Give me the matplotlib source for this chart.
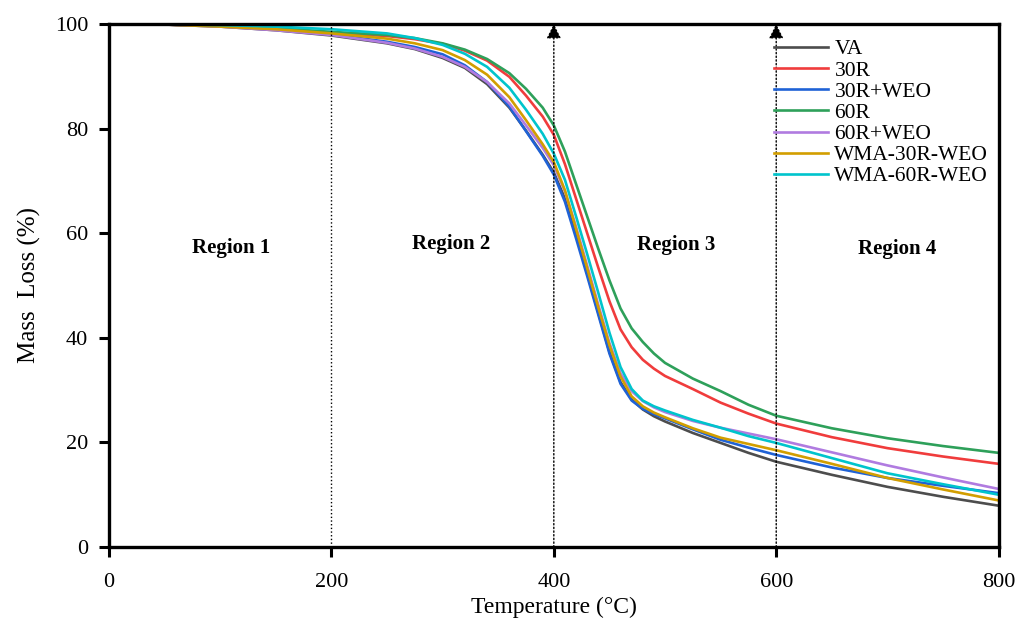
import numpy as np
import matplotlib.pyplot as plt

# temperature grid (degC) shared by all curves
temps = [0, 50, 100, 150, 200, 250, 275, 300, 320, 340, 360, 375, 390, 400, 410, 420, 430,
         440, 450, 460, 470, 480, 490, 500, 525, 550, 575, 600, 650, 700, 750, 800]

va = [100, 99.9, 99.5, 98.8, 97.8, 96.3, 95.2, 93.5, 91.6, 88.5, 84.0, 79.6, 75.0, 71.6, 66.6, 59.8, 52.3,
      44.8, 37.3, 31.5, 28.2, 26.3, 25.0, 24.0, 21.8, 19.9, 18.0, 16.3, 13.8, 11.5, 9.6, 7.9]
r30 = [100, 99.9, 99.6, 99.2, 98.3, 97.7, 97.1, 96.2, 94.9, 93.0, 89.9, 86.3, 82.3, 78.8, 73.2, 66.6, 60.0,
       53.4, 47.0, 41.6, 38.2, 35.8, 34.1, 32.7, 30.2, 27.6, 25.5, 23.6, 21.0, 18.9, 17.3, 15.9]
r30_weo = [100, 99.9, 99.6, 99.0, 98.0, 96.6, 95.6, 94.2, 92.1, 88.9, 84.2, 79.5, 74.8, 71.2, 66.0, 59.0, 51.8,
           44.4, 37.0, 31.2, 28.0, 26.4, 25.4, 24.6, 22.5, 20.5, 19.0, 17.6, 15.2, 13.2, 11.7, 10.3]
r60 = [100, 99.9, 99.6, 99.2, 98.5, 97.9, 97.3, 96.3, 95.1, 93.3, 90.6, 87.6, 84.0, 80.6, 75.6, 69.4, 63.2,
       57.0, 51.0, 45.6, 41.8, 39.2, 37.0, 35.2, 32.2, 29.8, 27.2, 25.1, 22.7, 20.8, 19.3, 18.0]
r60_weo = [100, 99.9, 99.5, 98.8, 97.9, 96.4, 95.3, 93.7, 91.8, 88.9, 84.8, 80.6, 76.3, 73.0, 68.0, 61.2, 53.8,
           46.3, 39.0, 33.2, 29.8, 27.9, 26.7, 25.8, 24.1, 22.8, 21.7, 20.6, 18.1, 15.6, 13.3, 11.1]
wma_30r = [100, 99.9, 99.5, 99.0, 98.2, 97.2, 96.3, 95.0, 93.1, 90.3, 86.0, 81.6, 77.0, 73.6, 68.2, 60.8, 53.3,
           45.8, 38.6, 32.6, 28.8, 26.9, 25.7, 24.8, 22.7, 20.9, 19.7, 18.5, 15.9, 13.2, 11.0, 8.9]
wma_60r = [100, 99.95, 99.8, 99.5, 99.0, 98.2, 97.3, 96.0, 94.3, 91.8, 87.8, 83.6, 79.0, 75.2, 70.2, 63.2, 56.0,
           48.6, 41.0, 34.4, 30.2, 28.0, 26.9, 26.1, 24.3, 22.8, 21.2, 19.9, 17.0, 14.1, 12.0, 10.0]

labels = ["VA", "30R", "30R+WEO", "60R", "60R+WEO", "WMA-30R-WEO", "WMA-60R-WEO"]
colors = ["#4d4d4d", "#f03c3c", "#1f62d6", "#2ea05a", "#b07be0", "#d29e00", "#00c4cc"]
series = [va, r30, r30_weo, r60, r60_weo, wma_30r, wma_60r]

regions = ["Region 1", "Region 2", "Region 3", "Region 4"]
region_x = [110, 308, 510, 709]
region_y = [57.2, 57.9, 57.7, 57.0]

plt.rcParams['font.family'] = ['Liberation Serif', 'DejaVu Serif']

fig = plt.figure(figsize=(10.19, 6.23), dpi=100)
ax = fig.add_axes([0.107, 0.122, 0.873, 0.8395])

for y, c, lab in zip(series, colors, labels):
    ax.plot(temps, y, color=c, lw=1.9, label=lab)

# region boundaries
ax.plot([200, 200], [0, 100], color='black', ls=':', lw=1)
for xb in [400, 600]:
    ax.annotate('', xy=(xb, 100), xytext=(xb, 0),
                arrowprops=dict(arrowstyle='-|>', ls=':', lw=1, color='black',
                                mutation_scale=22, shrinkA=0, shrinkB=0))

for name, rx, ry in zip(regions, region_x, region_y):
    ax.text(rx, ry, name, fontsize=15, fontweight='bold', ha='center', va='center')

ax.set_xlim(0, 800)
ax.set_ylim(0, 100)
ax.set_xticks([0, 200, 400, 600, 800])
ax.set_yticks([0, 20, 40, 60, 80, 100])
ax.tick_params(direction='out', length=7, width=2.2, labelsize=16)
ax.tick_params(axis='x', pad=12)
ax.tick_params(axis='y', pad=8)
for sp in ax.spines.values():
    sp.set_linewidth(2.4)

ax.set_xlabel("Temperature (°C)", fontsize=17, labelpad=3)
ax.set_ylabel("Mass  Loss (%)", fontsize=18, labelpad=10)

ax.legend(loc='upper left', bbox_to_anchor=(0.738, 0.987), frameon=False, fontsize=15.5,
          handlelength=2.5, handletextpad=0.3, labelspacing=0.05, borderaxespad=0)

fig.savefig('out.png', dpi=100)
